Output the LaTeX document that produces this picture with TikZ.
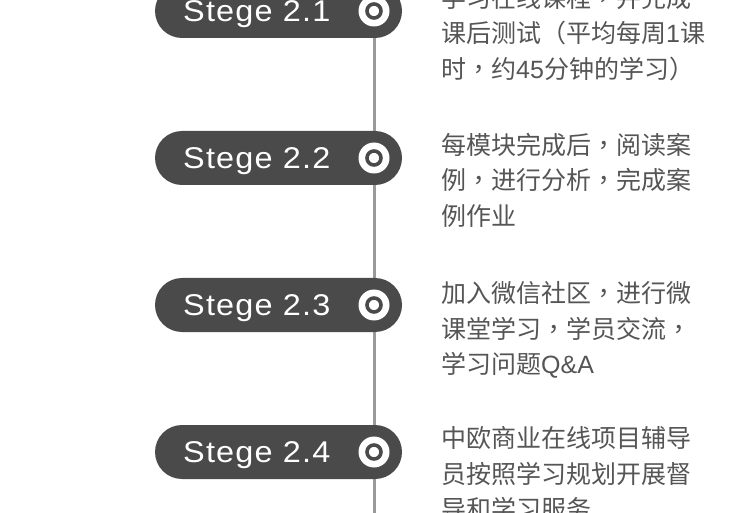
\documentclass[tikz,border=0pt]{standalone}
\usepackage{fontspec}
\newfontfamily\cjk{Noto Sans CJK SC}
\newfontfamily\cjktc{Noto Sans CJK TC}
\newfontfamily\lat{Liberation Sans}
\newcommand\zcomma{{\cjktc ，}}
\newcommand\zlat[1]{{\lat #1}}
\newfontfamily\pillfont[LetterSpace=4,FakeStretch=1.08]{Liberation Sans}
\definecolor{pillcol}{HTML}{4A4A4A}
\definecolor{spinecol}{HTML}{9A9A9A}
\definecolor{txtcol}{HTML}{555555}
\tikzset{
  spine/.style={draw=spinecol, line width=3pt},
  pill/.style={fill=pillcol, rounded corners=27pt, minimum width=247pt, minimum height=54pt, inner sep=0pt},
  pilllabel/.style={anchor=base west, inner sep=0pt, text=white, font=\pillfont\fontsize{30}{36}\selectfont},
  iconouter/.style={circle, fill=white, minimum size=31pt, inner sep=0pt},
  iconring/.style={circle, draw=pillcol, line width=3.6pt, minimum size=14pt, inner sep=0pt},
  desc/.style={anchor=base west, inner sep=0pt, align=left, text=txtcol, font=\cjk\fontsize{25}{35.5}\selectfont},
}
\begin{document}
\begin{tikzpicture}[x=1pt, y=-1pt]
\useasboundingbox (0,0) rectangle (750,513);
\coordinate (ltop) at (374,0);
\coordinate (lbot) at (374,513);
\draw[spine] (ltop) -- (lbot);
% Stage 2.1
\node[pill] (p1) at (278.5,11) {};
\node[pilllabel] (l1) at (183,21.5) {Stege 2.1};
\node[iconouter] (o1) at (374,11) {};
\node[iconring] (r1) at (374,11) {};
\node[desc] (d1) at (441,78.5) {学习在线课程\zcomma 并完成\\课后测试（平均每周\zlat{1}课\\时\zcomma 约\zlat{45}分钟的学习）};
% Stage 2.2
\node[pill] (p2) at (278.5,158) {};
\node[pilllabel] (l2) at (183,168.5) {Stege 2.2};
\node[iconouter] (o2) at (374,158) {};
\node[iconring] (r2) at (374,158) {};
\node[desc] (d2) at (441,225.5) {每模块完成后\zcomma 阅读案\\例\zcomma 进行分析\zcomma 完成案\\例作业};
% Stage 2.3
\node[pill] (p3) at (278.5,305) {};
\node[pilllabel] (l3) at (183,315.5) {Stege 2.3};
\node[iconouter] (o3) at (374,305) {};
\node[iconring] (r3) at (374,305) {};
\node[desc] (d3) at (441,373.5) {加入微信社区\zcomma 进行微\\课堂学习\zcomma 学员交流\zcomma\\学习问题\zlat{Q\&A}};
% Stage 2.4
\node[pill] (p4) at (278.5,452) {};
\node[pilllabel] (l4) at (183,462.5) {Stege 2.4};
\node[iconouter] (o4) at (374,452) {};
\node[iconring] (r4) at (374,452) {};
\node[desc] (d4) at (441,518.5) {中欧商业在线项目辅导\\员按照学习规划开展督\\导和学习服务};
\end{tikzpicture}
\end{document}
